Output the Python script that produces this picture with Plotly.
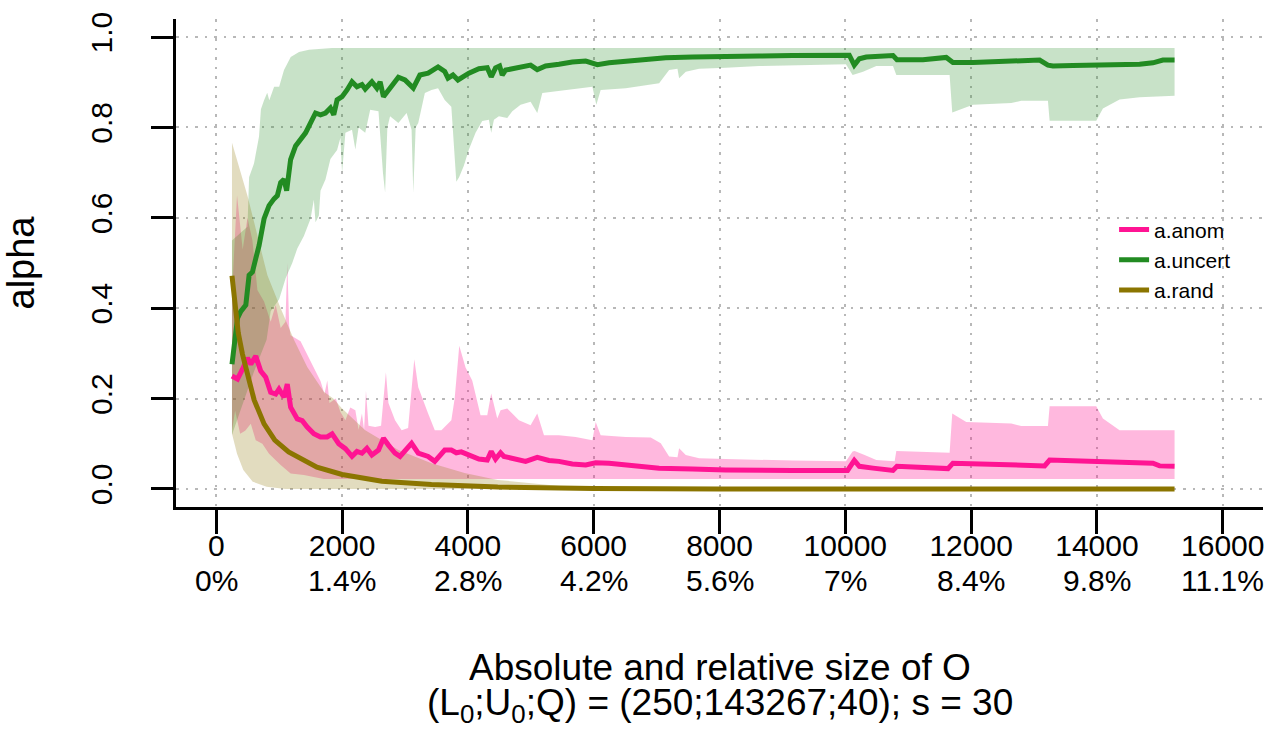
import plotly.graph_objects as go

# ---------------- data ----------------
x_ticks = [0, 2000, 4000, 6000, 8000, 10000, 12000, 14000, 16000]
x_tick_abs = ["0", "2000", "4000", "6000", "8000", "10000", "12000", "14000", "16000"]
x_tick_rel = ["0%", "1.4%", "2.8%", "4.2%", "5.6%", "7%", "8.4%", "9.8%", "11.1%"]
y_ticks = [0.0, 0.2, 0.4, 0.6, 0.8, 1.0]
y_tick_labels = ["0.0", "0.2", "0.4", "0.6", "0.8", "1.0"]

# a.uncert (mean line)
uncert_x = [250, 285, 338, 390, 470, 522, 575, 628, 681, 760, 839, 918, 971, 1024, 1077, 1119,
            1182, 1261, 1340, 1420, 1499, 1578, 1657, 1736, 1815, 1868, 1921, 2000, 2079, 2158,
            2237, 2316, 2368, 2474, 2553, 2605, 2658, 2763, 2895, 3000, 3132, 3237, 3368, 3526,
            3632, 3684, 3763, 3842, 4016, 4175, 4308, 4371, 4440, 4504, 4546, 4600, 4706, 4838,
            4997, 5103, 5236, 5448, 5660, 5873, 5979, 6058, 6244, 6509, 6828, 7146, 7570, 8101,
            8631, 9162, 9692, 10063, 10143, 10223, 10334, 10758, 10821, 11234, 11605, 11711,
            12029, 12559, 13089, 13221, 13301, 13618, 14148, 14678, 14890, 15049, 15234]
uncert_y = [0.276, 0.32, 0.378, 0.393, 0.407, 0.473, 0.48, 0.51, 0.539, 0.598, 0.627, 0.642,
            0.649, 0.678, 0.685, 0.66, 0.729, 0.759, 0.773, 0.788, 0.81, 0.832, 0.828, 0.832,
            0.843, 0.828, 0.861, 0.868, 0.883, 0.901, 0.89, 0.895, 0.885, 0.901, 0.887, 0.901,
            0.868, 0.887, 0.911, 0.905, 0.887, 0.916, 0.92, 0.934, 0.924, 0.909, 0.916, 0.905,
            0.92, 0.93, 0.932, 0.912, 0.932, 0.936, 0.916, 0.927, 0.93, 0.936, 0.938, 0.928,
            0.936, 0.94, 0.945, 0.947, 0.943, 0.939, 0.943, 0.946, 0.949, 0.954, 0.956, 0.958,
            0.958, 0.959, 0.96, 0.96, 0.938, 0.952, 0.956, 0.959, 0.95, 0.95, 0.955, 0.944,
            0.944, 0.946, 0.949, 0.938, 0.936, 0.937, 0.938, 0.94, 0.943, 0.949, 0.949]
# a.uncert band
uncert_hi_x = [250, 496, 522, 600, 680, 710, 760, 810, 843, 920, 1000, 1077, 1184, 1316, 1474,
               1842, 15234]
uncert_hi = [0.55, 0.58, 0.69, 0.72, 0.78, 0.84, 0.86, 0.877, 0.86, 0.89, 0.89, 0.927, 0.956,
             0.967, 0.972, 0.976, 0.976]
uncert_lo_x = [250, 400, 600, 800, 865, 1000, 1103, 1208, 1288, 1393, 1499, 1551, 1578, 1631,
               1657, 1736, 1815, 1921, 1974, 2000, 2053, 2158, 2211, 2263, 2368, 2447, 2579,
               2650, 2684, 2720, 2763, 2895, 3026, 3105, 3132, 3170, 3211, 3316, 3421, 3526,
               3632, 3737, 3816, 3860, 3936, 4016, 4122, 4228, 4334, 4371, 4414, 4493, 4626,
               4706, 4838, 4997, 5103, 5183, 5448, 5713, 5979, 6042, 6111, 6509, 7040, 7199,
               7332, 7358, 7464, 7676, 8101, 8631, 9162, 10010, 10116, 10281, 10493, 10758,
               10811, 11658, 11700, 11870, 12029, 12638, 12797, 13221, 13248, 13989, 14095,
               14360, 14678, 15234]
uncert_lo = [0.12, 0.18, 0.26, 0.33, 0.393, 0.42, 0.466, 0.50, 0.532, 0.56, 0.598, 0.64, 0.59,
             0.605, 0.66, 0.685, 0.73, 0.75, 0.777, 0.70, 0.788, 0.795, 0.751, 0.80, 0.788,
             0.839, 0.836, 0.70, 0.656, 0.80, 0.825, 0.81, 0.832, 0.795, 0.656, 0.80, 0.81,
             0.876, 0.883, 0.887, 0.861, 0.846, 0.68, 0.69, 0.715, 0.751, 0.788, 0.814, 0.817,
             0.788, 0.817, 0.825, 0.821, 0.836, 0.85, 0.857, 0.832, 0.876, 0.88, 0.885, 0.89,
             0.85, 0.883, 0.887, 0.898, 0.927, 0.93, 0.909, 0.923, 0.93, 0.932, 0.936, 0.938,
             0.94, 0.916, 0.923, 0.936, 0.936, 0.916, 0.916, 0.833, 0.842, 0.85, 0.854, 0.859,
             0.859, 0.815, 0.815, 0.842, 0.862, 0.867, 0.87]

# a.anom (mean line)
anom_x = [250, 338, 417, 496, 549, 628, 707, 786, 865, 945, 997, 1077, 1129, 1182, 1288, 1367,
          1446, 1551, 1657, 1763, 1842, 1947, 2053, 2158, 2237, 2316, 2395, 2474, 2579, 2658,
          2737, 2842, 2921, 3000, 3105, 3211, 3368, 3474, 3632, 3737, 3816, 3895, 4016, 4175,
          4308, 4371, 4440, 4520, 4573, 4706, 4918, 5103, 5289, 5448, 5660, 5873, 6032, 6244,
          6615, 7040, 7570, 8101, 9162, 10036, 10143, 10223, 10440, 10758, 10821, 11234, 11632,
          11711, 12559, 13168, 13248, 13989, 14413, 14890, 14996, 15234]
anom_y = [0.25, 0.243, 0.265, 0.29, 0.276, 0.294, 0.261, 0.247, 0.214, 0.21, 0.221, 0.203,
          0.232, 0.181, 0.155, 0.151, 0.137, 0.122, 0.115, 0.115, 0.122, 0.10, 0.089, 0.072,
          0.083, 0.079, 0.09, 0.075, 0.086, 0.112, 0.097, 0.079, 0.072, 0.083, 0.101, 0.079,
          0.072, 0.061, 0.086, 0.086, 0.08, 0.082, 0.075, 0.066, 0.064, 0.083, 0.066, 0.08,
          0.072, 0.068, 0.061, 0.07, 0.063, 0.061, 0.055, 0.053, 0.058, 0.057, 0.052, 0.046,
          0.044, 0.042, 0.041, 0.041, 0.063, 0.05, 0.046, 0.041, 0.05, 0.048, 0.045, 0.057,
          0.055, 0.051, 0.064, 0.061, 0.058, 0.057, 0.051, 0.05]
# a.anom band
anom_hi_x = [250, 330, 420, 496, 575, 654, 760, 865, 945, 1024, 1100, 1129, 1160, 1182, 1340,
             1499, 1657, 1720, 1765, 1800, 1900, 1974, 2053, 2130, 2211, 2263, 2316, 2350, 2380,
             2420, 2526, 2620, 2697, 2737, 2842, 2947, 3050, 3148, 3211, 3368, 3474, 3579, 3737,
             3790, 3863, 3963, 4069, 4201, 4308, 4371, 4467, 4520, 4626, 4812, 4997, 5103, 5210,
             5448, 5713, 5979, 6032, 6111, 6509, 6907, 7066, 7199, 7332, 7358, 7464, 7676, 8101,
             9162, 10010, 10116, 10148, 10307, 10493, 10784, 10811, 11658, 11700, 11923, 12638,
             12797, 13221, 13248, 13989, 14095, 14360, 15234]
anom_hi = [0.43, 0.65, 0.53, 0.60, 0.55, 0.44, 0.415, 0.37, 0.407, 0.356, 0.37, 0.50, 0.36,
           0.34, 0.327, 0.283, 0.239, 0.21, 0.24, 0.19, 0.20, 0.17, 0.152, 0.18, 0.174, 0.131,
           0.167, 0.13, 0.217, 0.14, 0.137, 0.14, 0.258, 0.19, 0.152, 0.13, 0.135, 0.287, 0.225,
           0.167, 0.13, 0.13, 0.152, 0.20, 0.317, 0.269, 0.24, 0.163, 0.163, 0.211, 0.156, 0.174,
           0.178, 0.152, 0.141, 0.167, 0.119, 0.119, 0.115, 0.108, 0.148, 0.119, 0.115, 0.114,
           0.101, 0.072, 0.07, 0.09, 0.075, 0.068, 0.066, 0.063, 0.061, 0.083, 0.084, 0.075,
           0.064, 0.061, 0.084, 0.08, 0.167, 0.148, 0.145, 0.139, 0.139, 0.183, 0.183, 0.156,
           0.13, 0.13]
anom_lo_x = [250, 300, 380, 460, 549, 628, 733, 839, 945, 1024, 1182, 1393, 1710, 3000, 15234]
anom_lo = [0.129, 0.173, 0.122, 0.129, 0.144, 0.108, 0.10, 0.078, 0.064, 0.053, 0.034, 0.031,
           0.022, 0.022, 0.022]

# a.rand (mean line)
rand_x = [250, 300, 350, 417, 496, 602, 760, 930, 1150, 1393, 1600, 2000, 2343, 2632, 3421,
          4474, 6000, 8000, 15234]
rand_y = [0.472, 0.40, 0.345, 0.298, 0.25, 0.197, 0.144, 0.108, 0.082, 0.064, 0.048, 0.032,
          0.025, 0.017, 0.01, 0.004, 0.001, 0.0, 0.0]
# a.rand band
rand_hi_x = [250, 390, 496, 654, 813, 1024, 1235, 1446, 1710, 1860, 2000, 2368, 2895, 3421,
             3947, 4474, 5500, 7000, 15234]
rand_hi = [0.766, 0.70, 0.649, 0.561, 0.473, 0.40, 0.33, 0.27, 0.215, 0.20, 0.178, 0.13, 0.086,
           0.057, 0.035, 0.02, 0.006, 0.001, 0.0]
rand_lo_x = [250, 330, 430, 580, 800, 1100, 15234]
rand_lo = [0.122, 0.078, 0.042, 0.016, 0.005, 0.0, 0.0]

series_names = ["a.anom", "a.uncert", "a.rand"]
line_colors = ["#FF1493", "#228B22", "#8B7500"]
band_colors = ["rgba(255,20,147,0.30)", "rgba(34,139,34,0.25)", "rgba(139,117,0,0.25)"]

FONT = "Liberation Sans, Arial, sans-serif"

fig = go.Figure()

bands = [
    (anom_hi_x, anom_hi, anom_lo_x, anom_lo),
    (uncert_hi_x, uncert_hi, uncert_lo_x, uncert_lo),
    (rand_hi_x, rand_hi, rand_lo_x, rand_lo),
]
for (hx, hy, lx, ly), col in zip(bands, band_colors):
    fig.add_trace(go.Scatter(
        x=list(hx) + list(lx)[::-1],
        y=list(hy) + list(ly)[::-1],
        fill="toself", fillcolor=col, mode="lines",
        line=dict(width=0, color=col), hoverinfo="skip", showlegend=False,
    ))

lines = [(anom_x, anom_y), (uncert_x, uncert_y), (rand_x, rand_y)]
for (lx, ly), name, col in zip(lines, series_names, line_colors):
    fig.add_trace(go.Scatter(
        x=lx, y=ly, mode="lines", name=name,
        line=dict(color=col, width=5),
    ))

# second row of x tick labels (relative sizes)
for xv, lab in zip(x_ticks, x_tick_rel):
    fig.add_annotation(x=xv, y=0, xref="x", yref="paper", text=lab, showarrow=False,
                       yanchor="middle", yshift=-73, font=dict(size=30, color="black", family=FONT))

fig.add_annotation(x=0.5, y=0, xref="paper", yref="paper",
                   text="Absolute and relative size of O", showarrow=False, height=36,
                   yanchor="middle", yshift=-160, font=dict(size=37, color="black", family=FONT))
fig.add_annotation(x=0.5, y=0, xref="paper", yref="paper",
                   text="(L<sub>0</sub>;U<sub>0</sub>;Q) = (250;143267;40); s = 30", showarrow=False,
                   height=38, yanchor="middle", yshift=-198,
                   font=dict(size=37, color="black", family=FONT))

fig.update_layout(
    width=1277, height=729,
    margin=dict(l=176, r=14, t=14, b=222),
    paper_bgcolor="white", plot_bgcolor="white",
    font=dict(family=FONT, size=30, color="black"),
    showlegend=True,
    legend=dict(x=0.863, y=0.61, xanchor="left", yanchor="top",
                bgcolor="rgba(0,0,0,0)", borderwidth=0,
                font=dict(size=21, family=FONT, color="black")),
    xaxis=dict(range=[-640, 16640], tickmode="array", tickvals=x_ticks, ticktext=x_tick_abs,
               showgrid=True, gridcolor="#B8B8B8", gridwidth=2, griddash="2.5px,7px",
               zeroline=False, showline=True, linecolor="black", linewidth=3,
               ticks="outside", ticklen=24, tickwidth=3, tickcolor="black",
               ticklabelstandoff=-14,
               tickfont=dict(size=30, family=FONT, color="black")),
    yaxis=dict(range=[-0.04, 1.04], tickmode="array", tickvals=y_ticks, ticktext=y_tick_labels,
               showgrid=True, gridcolor="#B8B8B8", gridwidth=2, griddash="2.5px,7px",
               zeroline=False, showline=True, linecolor="black", linewidth=3,
               ticks="outside", ticklen=22, tickwidth=3, tickcolor="black", tickangle=-90,
               ticklabelstandoff=27,
               tickfont=dict(size=30, family=FONT, color="black"),
               title=dict(text="alpha", font=dict(size=38, family=FONT, color="black"),
                          standoff=46)),
)

fig.write_html("out.html", config={"displayModeBar": False},
               post_script="document.body.style.margin='0px';")
